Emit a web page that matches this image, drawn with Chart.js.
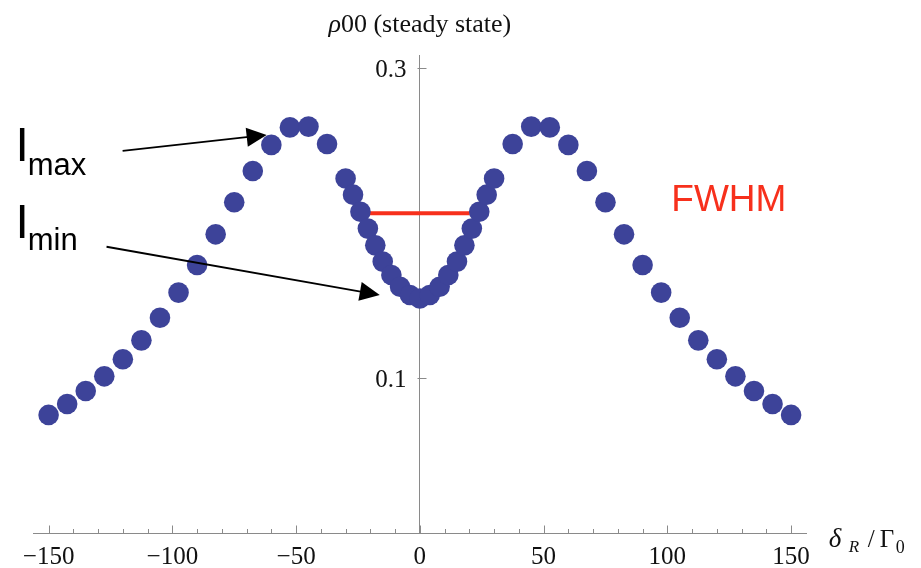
<!DOCTYPE html>
<html>
<head>
<meta charset="utf-8">
<script src="https://cdn.jsdelivr.net/npm/chart.js@4.4.1/dist/chart.umd.min.js"></script>
<style>
  html, body { margin: 0; padding: 0; background: #ffffff; }
  #wrap { width: 921px; height: 568px; }
</style>
</head>
<body>
<div id="wrap"><canvas id="c" width="921" height="568"></canvas></div>
<script>
// ---- data ----
const detuning = [
  -150, -142.5, -135, -127.5, -120, -112.5, -105, -97.5, -90, -82.5, -75, -67.5, -60, -52.5, -45, -37.5,
  -30, -27, -24, -21, -18, -15, -11.5, -8, -4, 0, 4, 8, 11.5, 15, 18, 21, 24, 27, 30,
  37.5, 45, 52.5, 60, 67.5, 75, 82.5, 90, 97.5, 105, 112.5, 120, 127.5, 135, 142.5, 150
];
const rho00 = [
  0.0765, 0.0835, 0.0919, 0.1014, 0.1124, 0.1246, 0.1392, 0.1554, 0.1732, 0.1930, 0.2137, 0.2339, 0.2507, 0.2620, 0.2625, 0.2513,
  0.2290, 0.2186, 0.2076, 0.1967, 0.1859, 0.1754, 0.1668, 0.1592, 0.1539, 0.1516, 0.1539, 0.1592, 0.1668, 0.1754, 0.1859, 0.1967, 0.2076, 0.2186, 0.2290,
  0.2513, 0.2625, 0.2620, 0.2507, 0.2339, 0.2137, 0.1930, 0.1732, 0.1554, 0.1392, 0.1246, 0.1124, 0.1014, 0.0919, 0.0835, 0.0765
];
const fwhmX = [-20.2, 20.2];
const fwhmY = [0.2066, 0.2066];

const xTickLabels = [-150, -100, -50, 0, 50, 100, 150];
const xMinorStep = 10;
const yTickLabels = [0.1, 0.3];

const xRange = [-156.3, 156.3];
const yRange = [0, 0.3087];

// ---- annotations (in data coordinates) ----
const arrows = [
  { from: [-120.1, 0.2468], to: [-61.9, 0.2571] },
  { from: [-126.6, 0.1850], to: [-16.2, 0.1539] }
];
const sideLabels = [
  { main: 'I', sub: 'max', at: [-163.4, 0.2403], subDrop: 14 },
  { main: 'I', sub: 'min', at: [-163.4, 0.1905], subDrop: 12 }
];
const fwhmLabel = { text: 'FWHM', at: [101.6, 0.2080] };

// ---- styles ----
const pointColor = '#3D4399';
const redColor = '#F7301C';
const axisColor = '#8a8a8a';
const serif = '"Liberation Serif", "Times New Roman", serif';
const sans = '"Liberation Sans", Arial, Helvetica, sans-serif';

const points = detuning.map((d, i) => ({ x: d, y: rho00[i] }));
const fwhmLine = fwhmX.map((d, i) => ({ x: d, y: fwhmY[i] }));

function fmtX(v) { return v < 0 ? '\u2212' + Math.abs(v) : String(v); }

const decorPlugin = {
  id: 'decor',
  afterDraw(chart) {
    const { ctx, chartArea, scales } = chart;
    const xs = scales.x, ys = scales.y;
    ctx.save();

    // axis tick marks (inside)
    ctx.strokeStyle = axisColor;
    ctx.lineWidth = 1;
    const yAxisPix = chartArea.bottom;
    ctx.beginPath();
    for (let v = -150; v <= 150; v += xMinorStep) {
      const px = Math.round(xs.getPixelForValue(v)) + 0.5;
      const len = xTickLabels.includes(v) ? 8 : 4.5;
      ctx.moveTo(px, yAxisPix);
      ctx.lineTo(px, yAxisPix - len);
    }
    const x0 = Math.round(xs.getPixelForValue(0)) + 0.5;
    for (const v of yTickLabels) {
      const py = Math.round(ys.getPixelForValue(v)) + 0.5;
      ctx.moveTo(x0 - 3, py);
      ctx.lineTo(x0 + 6, py);
    }
    ctx.stroke();

    // y tick labels (left of the centred axis)
    ctx.fillStyle = '#111';
    ctx.font = '25px ' + serif;
    ctx.textAlign = 'right';
    ctx.textBaseline = 'middle';
    for (const v of yTickLabels) {
      ctx.fillText(v.toFixed(1), x0 - 14, ys.getPixelForValue(v) + 1.5);
    }

    // arrows
    ctx.strokeStyle = '#000';
    ctx.fillStyle = '#000';
    ctx.lineWidth = 1.8;
    for (const a of arrows) {
      const sx = xs.getPixelForValue(a.from[0]), sy = ys.getPixelForValue(a.from[1]);
      const tx = xs.getPixelForValue(a.to[0]), ty = ys.getPixelForValue(a.to[1]);
      const dx = tx - sx, dy = ty - sy, L = Math.hypot(dx, dy);
      const ux = dx / L, uy = dy / L;
      const headLen = 20, headHalf = 9.5;
      const bx = tx - ux * headLen, by = ty - uy * headLen;
      ctx.beginPath();
      ctx.moveTo(sx, sy);
      ctx.lineTo(bx + ux * 2, by + uy * 2);
      ctx.stroke();
      ctx.beginPath();
      ctx.moveTo(tx, ty);
      ctx.lineTo(bx - uy * headHalf, by + ux * headHalf);
      ctx.lineTo(bx + uy * headHalf, by - ux * headHalf);
      ctx.closePath();
      ctx.fill();
    }

    // I_max / I_min labels
    ctx.textBaseline = 'alphabetic';
    ctx.textAlign = 'left';
    for (const l of sideLabels) {
      const px = xs.getPixelForValue(l.at[0]), py = ys.getPixelForValue(l.at[1]);
      ctx.font = '48px ' + sans;
      ctx.fillText(l.main, px, py);
      const w = ctx.measureText(l.main).width;
      ctx.font = '31px ' + sans;
      ctx.fillText(l.sub, px + w - 1, py + l.subDrop);
    }

    // FWHM label
    ctx.fillStyle = redColor;
    ctx.font = '37px ' + sans;
    ctx.fillText(fwhmLabel.text, xs.getPixelForValue(fwhmLabel.at[0]), ys.getPixelForValue(fwhmLabel.at[1]));

    // y-axis title at top: "ρ00 (steady state)"
    ctx.fillStyle = '#111';
    const tBase = chartArea.top - 23;
    ctx.font = 'italic 26px ' + serif;
    const w1 = ctx.measureText('\u03C1').width;
    ctx.font = '26px ' + serif;
    const w2 = ctx.measureText('00 (steady state)').width;
    const tx0 = xs.getPixelForValue(0) - (w1 + w2) / 2;
    ctx.font = 'italic 26px ' + serif;
    ctx.fillText('\u03C1', tx0, tBase);
    ctx.font = '26px ' + serif;
    ctx.fillText('00 (steady state)', tx0 + w1, tBase);

    // x-axis title: δ_R / Γ_0 (to the right of the axis end)
    const ar = chartArea.right;
    const ab = chartArea.bottom + 13;
    ctx.font = 'italic 27px ' + serif;
    ctx.fillText('\u03B4', ar + 22, ab);
    ctx.font = 'italic 17px ' + serif;
    ctx.fillText('R', ar + 42, ab + 5);
    ctx.font = '25px ' + serif;
    ctx.fillText('/', ar + 61, ab);
    ctx.fillText('\u0393', ar + 73, ab);
    ctx.font = '18px ' + serif;
    ctx.fillText('0', ar + 89, ab + 6);

    ctx.restore();
  }
};

new Chart(document.getElementById('c'), {
  type: 'scatter',
  data: {
    datasets: [
      {
        label: 'FWHM',
        data: fwhmLine,
        showLine: true,
        borderColor: redColor,
        borderWidth: 4,
        pointRadius: 0,
        order: 2,
        clip: false
      },
      {
        label: 'rho00',
        data: points,
        backgroundColor: pointColor,
        borderWidth: 0,
        pointRadius: 10.3,
        pointHoverRadius: 10.3,
        order: 1,
        clip: false
      }
    ]
  },
  options: {
    responsive: false,
    animation: false,
    events: [],
    layout: { padding: { left: 33, right: 114.3, top: 55, bottom: 0 } },
    plugins: { legend: { display: false }, tooltip: { enabled: false }, title: { display: false } },
    scales: {
      x: {
        type: 'linear',
        position: 'bottom',
        min: xRange[0],
        max: xRange[1],
        grid: { display: false, drawTicks: false },
        border: { display: true, color: axisColor, width: 1 },
        afterBuildTicks: s => { s.ticks = xTickLabels.map(v => ({ value: v })); },
        afterFit: s => { s.height = 34.5; s.paddingLeft = 0; s.paddingRight = 0; },
        ticks: {
          padding: 9,
          maxRotation: 0,
          autoSkip: false,
          color: '#111',
          font: { family: serif, size: 25 },
          callback: v => fmtX(v)
        }
      },
      y: {
        type: 'linear',
        position: { x: 0 },
        min: yRange[0],
        max: yRange[1],
        z: 1,
        grid: { display: false, drawTicks: false },
        border: { display: true, color: axisColor, width: 1 },
        afterBuildTicks: s => { s.ticks = yTickLabels.map(v => ({ value: v })); },
        ticks: { display: false }
      }
    }
  },
  plugins: [decorPlugin]
});
</script>
</body>
</html>
